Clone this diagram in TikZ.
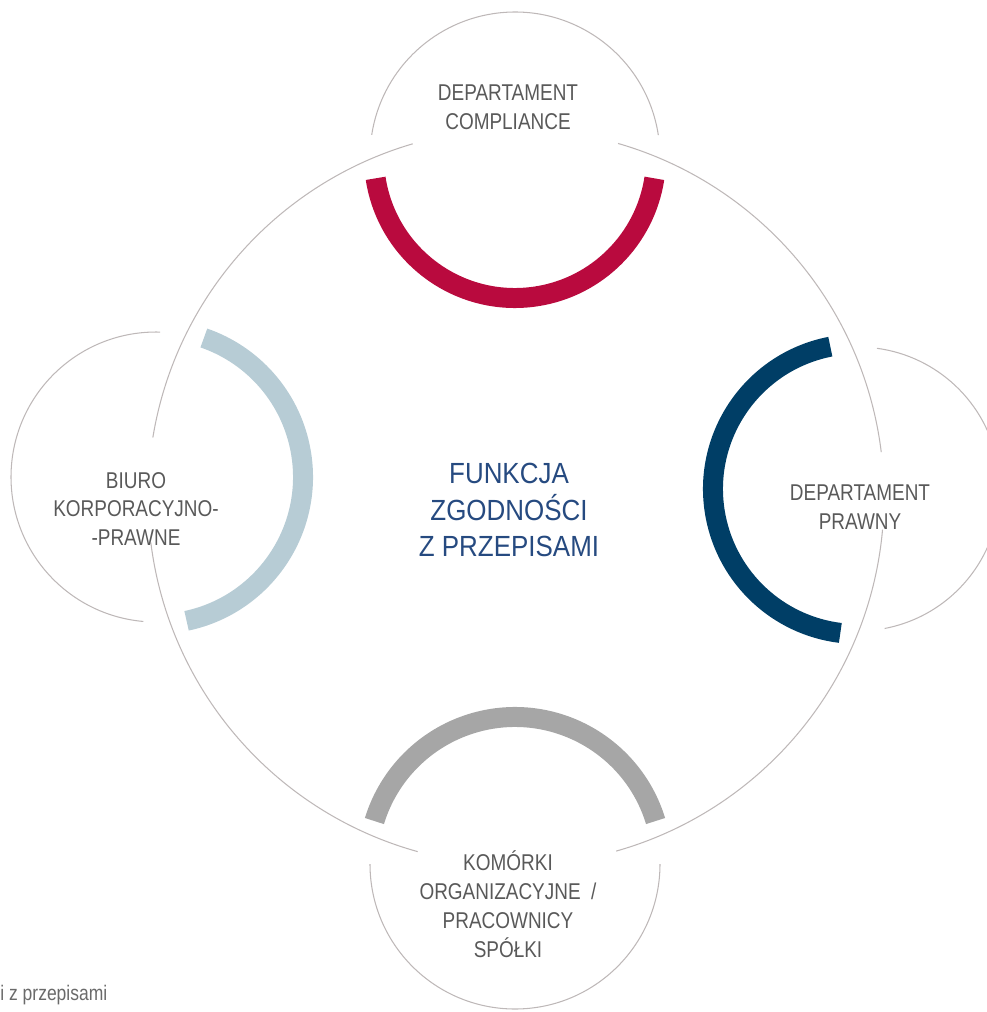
\documentclass[tikz,border=0pt]{standalone}
\usepackage{fontspec}
\setmainfont{Liberation Sans}
\newfontfamily\narrowsans{Liberation Sans}[FakeStretch=0.83]
\newfontfamily\widesans{Liberation Sans}[FakeStretch=0.89]
\definecolor{linegray}{RGB}{190,184,184}
\definecolor{textgray}{RGB}{89,89,89}
\definecolor{coreblue}{RGB}{38,74,128}
\definecolor{crimson}{RGB}{185,10,62}
\definecolor{navy}{RGB}{0,62,102}
\definecolor{paleblue}{RGB}{183,204,213}
\definecolor{bandgray}{RGB}{166,166,166}
\tikzset{
  ring/.style = {draw=linegray, line width=0.6pt},
  band/.style = {line width=0.4cm},
  dept/.style = {text=textgray, align=center, inner sep=0pt,
    font=\narrowsans\fontsize{13}{16.4}\selectfont},
  core/.style = {text=coreblue, align=center, inner sep=0pt,
    font=\widesans\fontsize{16.6}{20.7}\selectfont},
  note/.style = {text=textgray!90, inner sep=0pt,
    font=\narrowsans\fontsize{12}{14}\selectfont}
}

\begin{document}
\begin{tikzpicture}[x=0.02cm,y=-0.02cm]
  \useasboundingbox (0,0) rectangle (987,1012);
  \clip (0,0) rectangle (987,1012);

  \coordinate (mid)    at (516,497);
  \coordinate (top)    at (515,157);
  \coordinate (left)   at (156,477);
  \coordinate (right)  at (858,489);
  \coordinate (bottom) at (515,864);

  % big ring, open where the small circles overlap it
  \foreach \a/\b in {-7/-73.9, -106.3/-170.7, -187.1/-254.5, -285.8/-354.9}
    \draw[ring] (mid) ++(\a:368) arc[start angle=\a, end angle=\b, radius=368];

  % small circles, only their outer halves
  \draw[ring] (top)    ++(-8.7:145)  arc[start angle=-8.7,  end angle=-171.2, radius=145];
  \draw[ring] (left)   ++(-88.4:145) arc[start angle=-88.4, end angle=-265,   radius=145];
  \draw[ring] (right)  ++(79.2:142)  arc[start angle=79.2,  end angle=-82.3,  radius=142];
  \draw[ring] (bottom) ++(-180:145)  arc[start angle=-180,  end angle=-360,   radius=145];

  % coloured bands
  \draw[band,crimson]  (top)    ++(-188.7:141) arc[start angle=-188.7, end angle=-351.3, radius=141];
  \draw[band,paleblue] (left)   ++(78:147)     arc[start angle=78,     end angle=-71,    radius=147];
  \draw[band,navy]     (right)  ++(-101:145)   arc[start angle=-101,   end angle=-263,   radius=145];
  \draw[band,bandgray] (bottom) ++(-17:147)    arc[start angle=-17,    end angle=-163,   radius=147];

  % texts
  \node[dept] (compliance) at (508,107) {DEPARTAMENT\\COMPLIANCE};
  \node[dept] (biuro)      at (136,509) {BIURO\\KORPORACYJNO-\\-PRAWNE};
  \node[dept] (prawny)     at (860,507) {DEPARTAMENT\\PRAWNY};
  \node[dept] (komorki)    at (508,904) {KOMÓRKI\\ORGANIZACYJNE~ /\\PRACOWNICY\\SPÓŁKI};
  \node[core] (funkcja)    at (509,510) {FUNKCJA\\ZGODNOŚCI\\Z PRZEPISAMI};
  \node[note, anchor=base west] (footnote) at (0,1000) {i z przepisami};
\end{tikzpicture}
\end{document}
